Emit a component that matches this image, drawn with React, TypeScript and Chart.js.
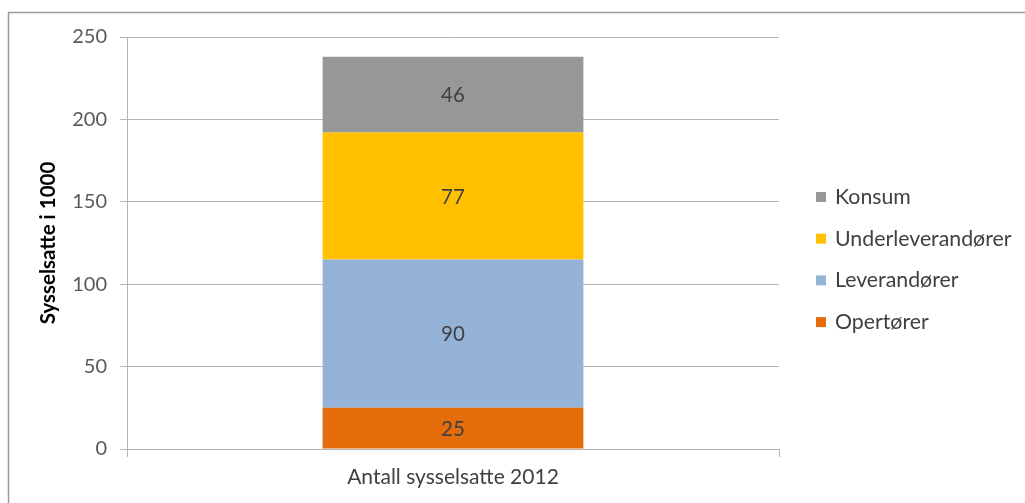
import React, { useEffect, useRef } from "react";
import { Chart, registerables } from "chart.js";

Chart.register(...registerables);

// ---- Data ----
const categories = ["Antall sysselsatte 2012"];
const seriesNames = ["Opertører", "Leverandører", "Underleverandører", "Konsum"];
const opertorer = [25];
const leverandorer = [90];
const underleverandorer = [77];
const konsum = [46];
const seriesColors = ["#E46C0A", "#95B3D7", "#FFC000", "#979797"];
const yTickValues = [0, 50, 100, 150, 200, 250];
const yAxisTitle = "Sysselsatte i 1000";

const FONT = "Lato, 'Liberation Sans', sans-serif";

const framePlugin = {
  id: "frame",
  beforeDraw(chart: any) {
    const ctx = chart.ctx;
    ctx.save();
    ctx.fillStyle = "#ffffff";
    ctx.fillRect(0, 0, chart.width, chart.height);
    ctx.strokeStyle = "#9a9a9a";
    ctx.lineWidth = 1.5;
    ctx.beginPath();
    ctx.moveTo(8.5, chart.height + 5);
    ctx.lineTo(8.5, 12.5);
    ctx.lineTo(chart.width + 5, 12.5);
    ctx.stroke();
    ctx.restore();
  },
};

const valueLabelPlugin = {
  id: "valueLabels",
  afterDatasetsDraw(chart: any) {
    const ctx = chart.ctx;
    ctx.save();
    ctx.font = `20.5px ${FONT}`;
    ctx.fillStyle = "#404040";
    ctx.textAlign = "center";
    ctx.textBaseline = "middle";
    chart.data.datasets.forEach((ds: any, i: number) => {
      const meta = chart.getDatasetMeta(i);
      meta.data.forEach((bar: any, j: number) => {
        const { x, y, base } = bar.getProps(["x", "y", "base"], true);
        ctx.fillText(String(ds.data[j]), x, (y + base) / 2 + 1);
      });
    });
    ctx.restore();
  },
};

const legendPlugin = {
  id: "customLegend",
  afterDraw(chart: any) {
    const ctx = chart.ctx;
    const area = chart.chartArea;
    const x0 = area.right + 37;
    const y0 = 197;
    const step = 41.7;
    ctx.save();
    ctx.font = `21.3px ${FONT}`;
    ctx.textBaseline = "middle";
    ctx.textAlign = "left";
    const items = chart.data.datasets.map((ds: any) => ({ label: ds.label, color: ds.backgroundColor })).reverse();
    items.forEach((it: any, k: number) => {
      const cy = y0 + k * step;
      ctx.fillStyle = it.color;
      ctx.fillRect(x0, cy - 5, 10, 10);
      ctx.fillStyle = "#404040";
      ctx.fillText(it.label, x0 + 19, cy);
    });
    ctx.restore();
  },
};

export default function App() {
  const ref = useRef<HTMLCanvasElement>(null);

  useEffect(() => {
    if (!ref.current) return;
    const seriesValues = [opertorer, leverandorer, underleverandorer, konsum];
    const chart = new Chart(ref.current, {
      type: "bar",
      data: {
        labels: categories,
        datasets: seriesNames.map((name, i) => ({
          label: name,
          data: seriesValues[i],
          backgroundColor: seriesColors[i],
          borderWidth: 0,
          categoryPercentage: 1,
          barPercentage: 0.4,
        })),
      },
      options: {
        responsive: false,
        animation: false,
        devicePixelRatio: 1,
        layout: { padding: { top: 37, left: 0, right: 246, bottom: 0 } },
        plugins: {
          legend: { display: false },
          tooltip: { enabled: false },
        },
        scales: {
          x: {
            stacked: true,
            grid: {
              display: true,
              drawOnChartArea: false,
              drawTicks: true,
              tickLength: 8,
              color: "#b5b5b5",
              offset: true,
            },
            border: { display: true, color: "#b5b5b5", width: 1 },
            ticks: {
              color: "#404040",
              font: { family: FONT, size: 21 },
              padding: 8,
            },
            afterFit(scale: any) {
              scale.height = 54;
            },
          },
          y: {
            stacked: true,
            min: 0,
            max: 250,
            afterBuildTicks(scale: any) {
              scale.ticks = yTickValues.map((v) => ({ value: v }));
            },
            grid: {
              color: "#b5b5b5",
              drawTicks: true,
              tickLength: 7,
            },
            border: { display: true, color: "#b5b5b5", width: 1 },
            ticks: {
              color: "#595959",
              font: { family: FONT, size: 20 },
              padding: 13,
            },
            title: {
              display: true,
              text: yAxisTitle,
              color: "#000000",
              font: { family: FONT, size: 20.5, weight: "bold" },
              padding: { top: 36, bottom: 0 },
            },
            afterFit(scale: any) {
              scale.width = 127;
            },
          },
        },
      },
      plugins: [framePlugin, valueLabelPlugin, legendPlugin],
    });
    return () => chart.destroy();
  }, []);

  return (
    <div style={{ position: "absolute", left: 0, top: 0, width: 1025, height: 503 }}>
      <canvas ref={ref} width={1025} height={503} style={{ display: "block" }} />
    </div>
  );
}
